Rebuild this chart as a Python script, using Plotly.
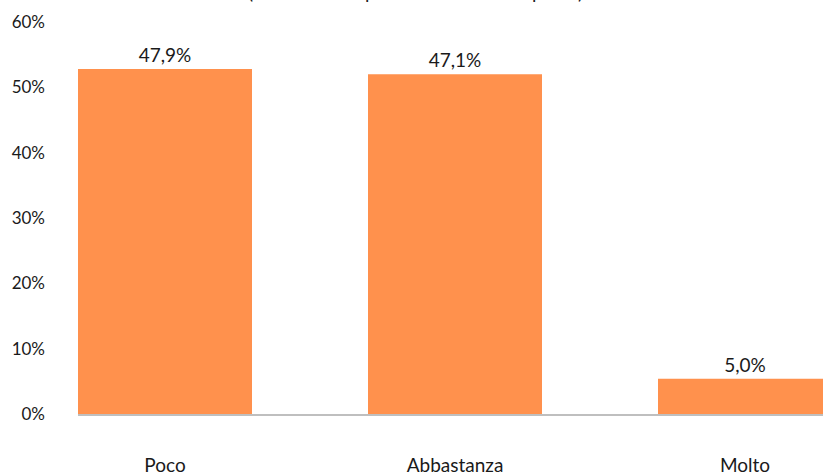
import plotly.graph_objects as go

categories = ["Poco", "Abbastanza", "Molto"]
bar_heights = [52.8, 52.0, 5.4]
value_labels = ["47,9%", "47,1%", "5,0%"]
y_tickvals = [0, 10, 20, 30, 40, 50, 60]
y_ticktext = ["0%", "10%", "20%", "30%", "40%", "50%", "60%"]
title_text = "(distribuzione percentuale delle risposte)"

FONT = "Lato, 'Open Sans', sans-serif"

fig = go.Figure(
    go.Bar(
        x=categories,
        y=bar_heights,
        text=value_labels,
        textposition="outside",
        textfont=dict(family=FONT, size=19, color="#1a1a1a"),
        marker=dict(color="#FF914D", line=dict(width=0)),
        cliponaxis=False,
        hoverinfo="skip",
    )
)

fig.add_annotation(
    text=title_text,
    xref="paper", yref="paper",
    x=(415 - 78) / 745, y=1,
    xanchor="center", yanchor="bottom",
    yshift=17,
    showarrow=False,
    font=dict(family=FONT, size=19, color="#1a1a1a"),
)

fig.update_layout(
    width=823, height=475,
    margin=dict(l=78, r=0, t=22, b=61, autoexpand=False),
    paper_bgcolor="white", plot_bgcolor="white",
    bargap=0.4,
    showlegend=False,
    font=dict(family=FONT, color="#1a1a1a"),
)
fig.update_xaxes(
    range=[-0.3, -0.3 + 745 / 290],
    automargin=False,
    showgrid=False,
    showline=True, linecolor="#BFBFBF", linewidth=2,
    ticks="",
    tickfont=dict(family=FONT, size=19, color="#1a1a1a"),
    ticklabelstandoff=33,
)
fig.update_yaxes(
    range=[0, 60],
    automargin=False,
    tickvals=y_tickvals,
    ticktext=y_ticktext,
    showgrid=False, zeroline=False, showline=False,
    ticks="",
    tickfont=dict(family=FONT, size=17, color="#1a1a1a"),
    ticklabelstandoff=32,
)

fig.write_html(
    "out.html",
    config={"displayModeBar": False},
    post_script="document.body.style.margin='0';document.body.style.overflow='hidden';",
)
